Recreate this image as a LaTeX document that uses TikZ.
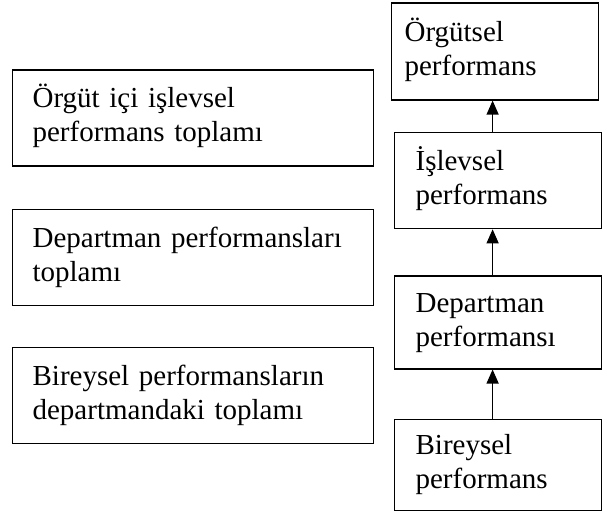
\documentclass[tikz,border=0pt]{standalone}
\usepackage{fontspec}
\setmainfont{Liberation Serif}
\usetikzlibrary{positioning,arrows.meta}

\begin{document}
\begin{tikzpicture}[x=1pt, y=-1pt,
    every node/.style = { draw, line width = 1.2pt, shape = rectangle, align = left,
      font = \fontsize{29pt}{34pt}\selectfont, inner ysep = 0pt, minimum height = 96pt,
      execute at begin node = \strut, execute at end node = \strut },
    lbox/.style = { text width = 320pt, inner xsep = 20.5pt },
    rbox/.style = { text width = 165pt, inner xsep = 21pt },
    link/.style = { line width = 1.2pt, -{Triangle[width = 12pt, length = 14pt]} }]
    \useasboundingbox (0,0) rectangle (602,516);

    % right column
    \node [rbox, text width = 181pt, inner xsep = 13pt, minimum height = 97pt, anchor = north west]
      (orgut) at (391,2.4) { Örgütsel\\ performans };
    \node [rbox, below = 31.5pt of orgut, xshift = 3pt] (islev) { İşlevsel\\ performans };
    \node [rbox, below = 46pt of islev, minimum height = 93pt] (dept) { Departman\\ performansı };
    \node [rbox, below = 49pt of dept, minimum height = 91pt] (birey) { Bireysel\\ performans };

    % left column
    \node [lbox, anchor = north west] (toplamislev) at (11.5,69.4)
      { Örgüt içi işlevsel\\ performans toplamı };
    \node [lbox, below = 42pt of toplamislev] (toplamdept)
      { Departman performansları\\ toplamı };
    \node [lbox, below = 41pt of toplamdept] (toplambirey)
      { Bireysel performansların\\ departmandaki toplamı };

    \draw [link] ([xshift = -5.5pt]birey.north) -- ([xshift = -5.5pt]dept.south);
    \draw [link] ([xshift = -5.5pt]dept.north) -- ([xshift = -5.5pt]islev.south);
    \draw [link] ([xshift = -5.5pt]islev.north) -- ([xshift = -5.5pt]islev.north |- orgut.south);
\end{tikzpicture}
\end{document}
